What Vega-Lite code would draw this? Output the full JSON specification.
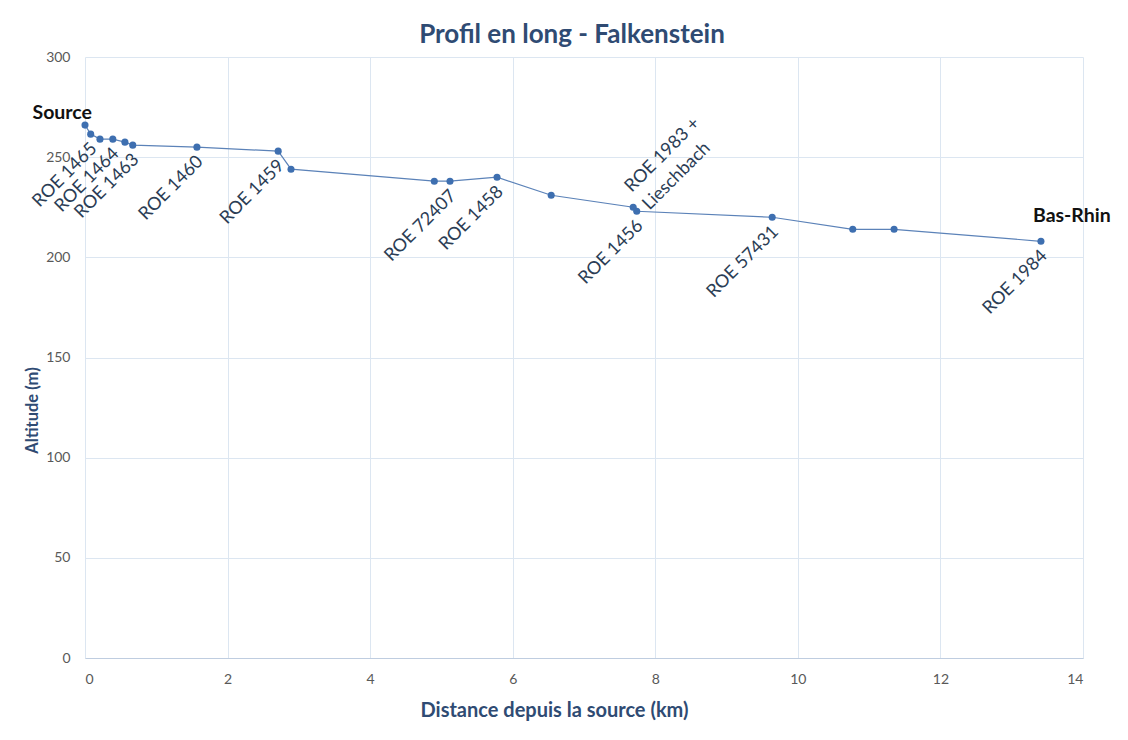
{
  "$schema": "https://vega.github.io/schema/vega-lite/v6.json",
  "width": 998,
  "height": 601,
  "autosize": "none",
  "padding": {"left": 85, "top": 57, "right": 45, "bottom": 82},
  "background": "white",
  "title": {"text": "Profil en long - Falkenstein", "font": "Lato", "fontSize": 26, "fontWeight": "bold", "color": "#2F4B73", "anchor": "middle", "offset": 2, "dx": -12},
  "config": {
    "view": {"stroke": null},
    "axis": {"labelFont": "Lato", "titleFont": "Lato", "labelColor": "#595959", "labelFontSize": 14, "titleColor": "#2F4B73", "titleFontWeight": "bold", "gridColor": "#DCE6F1", "gridWidth": 1, "ticks": false}
  },
  "data": {
    "values": [
      {"distance": 0.0, "altitude": 266, "below": "", "above": "", "end": "Source"},
      {"distance": 0.08, "altitude": 261.5, "below": "ROE 1465", "above": "", "end": ""},
      {"distance": 0.21, "altitude": 259, "below": "", "above": "", "end": ""},
      {"distance": 0.39, "altitude": 259, "below": "ROE 1464", "above": "", "end": ""},
      {"distance": 0.56, "altitude": 257.5, "below": "", "above": "", "end": ""},
      {"distance": 0.67, "altitude": 256, "below": "ROE 1463", "above": "", "end": ""},
      {"distance": 1.57, "altitude": 255, "below": "ROE 1460", "above": "", "end": ""},
      {"distance": 2.71, "altitude": 253, "below": "ROE 1459", "above": "", "end": ""},
      {"distance": 2.89, "altitude": 244, "below": "", "above": "", "end": ""},
      {"distance": 4.9, "altitude": 238, "below": "", "above": "", "end": ""},
      {"distance": 5.12, "altitude": 238, "below": "ROE 72407", "above": "", "end": ""},
      {"distance": 5.78, "altitude": 240, "below": "ROE 1458", "above": "", "end": ""},
      {"distance": 6.54, "altitude": 231, "below": "", "above": "", "end": ""},
      {"distance": 7.69, "altitude": 225, "below": "", "above": "ROE 1983 +\nLieschbach", "end": ""},
      {"distance": 7.74, "altitude": 223, "below": "ROE 1456", "above": "", "end": ""},
      {"distance": 9.64, "altitude": 220, "below": "ROE 57431", "above": "", "end": ""},
      {"distance": 10.77, "altitude": 214, "below": "", "above": "", "end": ""},
      {"distance": 11.35, "altitude": 214, "below": "", "above": "", "end": ""},
      {"distance": 13.41, "altitude": 208, "below": "ROE 1984", "above": "", "end": "Bas-Rhin"}
    ]
  },
  "encoding": {
    "x": {"field": "distance", "type": "quantitative", "scale": {"domain": [0, 14], "nice": false},
      "axis": {"values": [0, 2, 4, 6, 8, 10, 12, 14], "title": "Distance depuis la source (km)", "titleFontSize": 20, "grid": true, "domain": true, "domainColor": "#BFCDE0", "labelPadding": 14, "titlePadding": 14, "titleX": 469, "titleAlign": "center", "titleAnchor": null}},
    "y": {"field": "altitude", "type": "quantitative", "scale": {"domain": [0, 300], "nice": false},
      "axis": {"values": [0, 50, 100, 150, 200, 250, 300], "title": "Altitude (m)", "titleFontSize": 16.5, "grid": true, "domain": false, "labelPadding": 15, "titlePadding": 5, "titleY": 353, "titleAlign": "center", "titleAnchor": null}}
  },
  "layer": [
    {"mark": {"type": "line", "color": "#5B82B8", "strokeWidth": 1.2}},
    {"mark": {"type": "point", "filled": true, "color": "#3E6FB0", "size": 50, "opacity": 1}},
    {"mark": {"type": "text", "angle": -45, "align": "right", "baseline": "middle", "dx": -6, "dy": 11, "font": "Lato", "fontSize": 18, "color": "#2B3D55"},
      "encoding": {"text": {"field": "below"}}},
    {"mark": {"type": "text", "angle": -45, "align": "left", "baseline": "alphabetic", "dx": 9, "dy": -11, "font": "Lato", "fontSize": 18, "color": "#2B3D55", "lineBreak": "\n", "lineHeight": 25},
      "encoding": {"text": {"field": "above"}}},
    {"transform": [{"filter": "datum.end == 'Source'"}],
      "mark": {"type": "text", "align": "right", "baseline": "alphabetic", "dx": 7, "dy": -6, "font": "Lato", "fontSize": 19.5, "fontWeight": "bold", "color": "#111111"},
      "encoding": {"text": {"field": "end"}}},
    {"transform": [{"filter": "datum.end == 'Bas-Rhin'"}],
      "mark": {"type": "text", "align": "left", "baseline": "alphabetic", "dx": -8, "dy": -19, "font": "Lato", "fontSize": 19.5, "fontWeight": "bold", "color": "#111111"},
      "encoding": {"text": {"field": "end"}}}
  ]
}
